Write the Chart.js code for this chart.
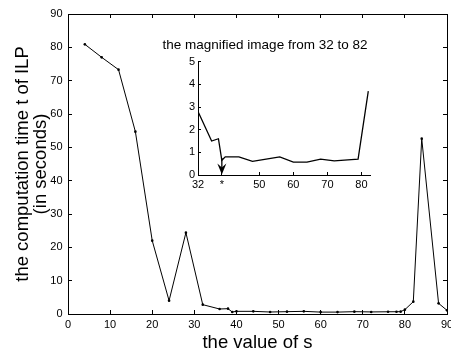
<!DOCTYPE html>
<html>
<head>
<meta charset="utf-8">
<script src="https://cdn.jsdelivr.net/npm/chart.js@4/dist/chart.umd.min.js"></script>
<style>
  html, body { margin: 0; padding: 0; background: #ffffff; }
  #wrap { position: relative; width: 451px; height: 354px; overflow: hidden; background: #fff; }
  #main { position: absolute; left: 0; top: 0; }
  #inset { position: absolute; left: 160px; top: 30px; }
</style>
</head>
<body>
<div id="wrap">
  <canvas id="main" width="451" height="354"></canvas>
  <canvas id="inset" width="265" height="170"></canvas>
</div>
<script>
// ---- data ----
const sValues = [4, 8, 12, 16, 20, 24, 28, 32, 36, 38, 39, 40, 44, 48, 52, 56, 60, 64, 68, 72, 76, 78, 79, 80, 82, 84, 88, 90];
const ilpTimes = [80.9, 77, 73.3, 54.7, 22, 4, 24.4, 2.8, 1.5, 1.6, 0.6, 0.8, 0.8, 0.6, 0.7, 0.8, 0.57, 0.57, 0.7, 0.62, 0.67, 0.68, 0.7, 1.3, 3.7, 52.6, 3.2, 1.1];
const insetS = [32, 36, 38, 39, 40, 44, 48, 52, 56, 60, 64, 68, 72, 76, 79, 82];
const insetTimes = [2.8, 1.5, 1.6, 0.65, 0.8, 0.8, 0.6, 0.7, 0.8, 0.57, 0.57, 0.7, 0.62, 0.67, 0.7, 3.7];
const mainXTicks = [0, 10, 20, 30, 40, 50, 60, 70, 80, 90];
const mainYTicks = [0, 10, 20, 30, 40, 50, 60, 70, 80, 90];
const insetFrom = 32;
const insetTo = 82;
const insetXTicks = [32, 39, 50, 60, 70, 80];
const insetXLabels = ['32', '*', '50', '60', '70', '80'];
const insetYTicks = [0, 1, 2, 3, 4, 5];
const arrowS = 39;
const arrowFromTime = 0.75;
const xTitle = 'the value of s';
const yTitle = ['the computation time t of ILP', '(in seconds)'];
const insetTitle = 'the magnified image from 32 to 82';

// ---- helpers ----
const FONT = 'Liberation Sans, Arial, Helvetica, sans-serif';
const mainPoints = sValues.map((s, i) => ({ x: s, y: ilpTimes[i] }));
const insetPoints = insetS.map((s, i) => ({ x: s, y: insetTimes[i] }));

function fixTicks(list) {
  return function (scale) { scale.ticks = list.map(v => ({ value: v })); };
}
function fixSize(prop, size) {
  return function (scale) {
    scale[prop] = size;
    scale.paddingLeft = 0; scale.paddingRight = 0;
    scale.paddingTop = 0; scale.paddingBottom = 0;
  };
}
const tickFont = { family: FONT, size: 11 };

// ---- main chart ----
new Chart(document.getElementById('main'), {
  type: 'line',
  data: {
    datasets: [{
      data: mainPoints,
      borderColor: '#000',
      backgroundColor: '#000',
      borderWidth: 1,
      pointRadius: 1.3,
      pointBorderWidth: 0,
      pointBackgroundColor: '#000',
      tension: 0
    }]
  },
  options: {
    responsive: false,
    animation: false,
    layout: { padding: 0 },
    plugins: { legend: { display: false }, tooltip: { enabled: false }, title: { display: false } },
    scales: {
      x: {
        type: 'linear', position: 'bottom', min: 0, max: 90,
        afterBuildTicks: fixTicks(mainXTicks),
        afterFit: fixSize('height', 40),
        ticks: { font: tickFont, color: '#000', padding: 8, maxRotation: 0, autoSkip: false },
        grid: { drawOnChartArea: false, tickLength: -4, color: '#000', lineWidth: 1 },
        border: { display: true, color: '#000', width: 1 },
        title: { display: true, text: xTitle, color: '#000', font: { family: FONT, size: 18.5, lineHeight: 1.2 }, padding: { top: 0, bottom: 0 } }
      },
      xTop: {
        type: 'linear', position: 'top', min: 0, max: 90,
        afterBuildTicks: fixTicks(mainXTicks),
        afterFit: fixSize('height', 14),
        ticks: { display: false },
        grid: { drawOnChartArea: false, tickLength: -4, color: '#000', lineWidth: 1 },
        border: { display: true, color: '#000', width: 1 }
      },
      y: {
        type: 'linear', position: 'left', min: 0, max: 90,
        afterBuildTicks: fixTicks(mainYTicks),
        afterFit: fixSize('width', 68),
        ticks: { font: tickFont, color: '#000', padding: 9.5 },
        grid: { drawOnChartArea: false, tickLength: -4, color: '#000', lineWidth: 1 },
        border: { display: true, color: '#000', width: 1 },
        title: { display: true, text: yTitle, color: '#000', font: { family: FONT, size: 18.5, lineHeight: 1.0 }, padding: { top: 13.5, bottom: 0 } }
      },
      yRight: {
        type: 'linear', position: 'right', min: 0, max: 90,
        afterBuildTicks: fixTicks(mainYTicks),
        afterFit: fixSize('width', 3),
        ticks: { display: false },
        grid: { drawOnChartArea: false, tickLength: -4, color: '#000', lineWidth: 1 },
        border: { display: true, color: '#000', width: 1 }
      }
    }
  }
});

// ---- inset chart ----
const arrowPlugin = {
  id: 'arrowPlugin',
  afterDatasetsDraw(chart) {
    const xs = chart.scales.x, ys = chart.scales.y;
    const ctx = chart.ctx;
    const px = xs.getPixelForValue(arrowS);
    const yTop = ys.getPixelForValue(arrowFromTime);
    const yTip = ys.getPixelForValue(0) - 0.5;
    const headLen = 11, headHalf = 4.5;
    ctx.save();
    ctx.strokeStyle = '#000';
    ctx.fillStyle = '#000';
    ctx.lineWidth = 1.3;
    ctx.beginPath();
    ctx.moveTo(px, yTop);
    ctx.lineTo(px, yTip - 3);
    ctx.stroke();
    ctx.beginPath();
    ctx.moveTo(px, yTip);
    ctx.lineTo(px - headHalf, yTip - headLen);
    ctx.lineTo(px, yTip - headLen + 4);
    ctx.lineTo(px + headHalf, yTip - headLen);
    ctx.closePath();
    ctx.fill();
    ctx.restore();
  }
};

new Chart(document.getElementById('inset'), {
  type: 'line',
  data: {
    datasets: [{
      data: insetPoints,
      borderColor: '#000',
      borderWidth: 1.3,
      pointRadius: 0,
      tension: 0
    }]
  },
  options: {
    responsive: false,
    animation: false,
    layout: { padding: { left: 0, right: 55, top: 0, bottom: 0 } },
    plugins: {
      legend: { display: false }, tooltip: { enabled: false },
      title: {
        display: true, text: insetTitle, color: '#000',
        font: { family: FONT, size: 13.5, weight: 'normal', lineHeight: 1.2 },
        padding: { top: 7.2, bottom: 8.3 }
      }
    },
    scales: {
      x: {
        type: 'linear', position: 'bottom', min: insetFrom, max: insetTo + 0.5,
        afterBuildTicks: fixTicks(insetXTicks),
        afterFit: fixSize('height', 25),
        ticks: {
          font: tickFont, color: '#000', padding: 6.4, maxRotation: 0, autoSkip: false,
          callback: (v) => insetXLabels[insetXTicks.indexOf(v)]
        },
        grid: { drawOnChartArea: false, tickLength: -3, color: '#000', lineWidth: 1 },
        border: { display: true, color: '#000', width: 1 }
      },
      y: {
        type: 'linear', position: 'left', min: 0, max: 5,
        afterBuildTicks: fixTicks(insetYTicks),
        afterFit: fixSize('width', 38),
        ticks: { font: tickFont, color: '#000', padding: 6 },
        grid: { drawOnChartArea: false, tickLength: -3, color: '#000', lineWidth: 1 },
        border: { display: true, color: '#000', width: 1 }
      }
    }
  },
  plugins: [arrowPlugin]
});
</script>
</body>
</html>
